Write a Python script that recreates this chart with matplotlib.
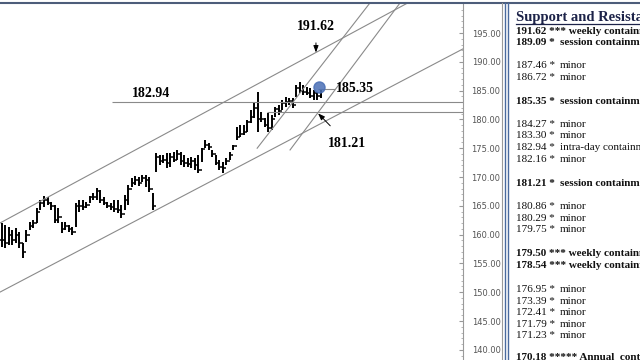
import numpy as np
import matplotlib
matplotlib.use("Agg")
import matplotlib.pyplot as plt
from matplotlib.lines import Line2D

# # bar data (daily OHLC)
highs = [162.0, 161.7, 161.3, 160.8, 161.1, 160.5, 158.5, 160.8, 162.2, 162.5,
         164.6, 166.0, 166.7, 166.5, 165.7, 165.1, 164.6, 162.2, 162.2, 161.7,
         161.3, 165.5, 166.0, 166.0, 165.7, 166.7, 167.2, 168.1, 167.7, 166.5,
         165.7, 165.5, 166.0, 166.0, 165.1, 166.9, 168.6, 169.8, 170.2, 170.0,
         170.3, 170.3, 170.0, 167.2, 174.2, 173.8, 173.8, 174.2, 174.2, 174.3,
         174.7, 174.3, 173.8, 173.3, 173.5, 173.3, 173.8, 175.0, 176.4, 175.9,
         174.7, 173.8, 173.0, 172.6, 173.3, 174.3, 175.6, 178.7, 179.0, 179.0,
         179.9, 181.6, 182.9, 184.8, 181.3, 180.2, 181.1, 180.8, 182.2, 182.5,
         183.4, 183.9, 183.7, 183.7, 186.0, 186.5, 186.0, 185.6, 185.5, 185.1,
         184.8, 185.1]
lows = [157.8, 157.7, 158.2, 158.2, 158.5, 157.7, 155.9, 158.7, 160.8, 161.1,
        162.0, 164.3, 164.8, 165.1, 164.3, 162.0, 162.0, 160.3, 160.8, 160.5,
        159.9, 161.3, 163.9, 164.3, 164.6, 165.5, 166.0, 166.0, 165.5, 165.1,
        164.6, 164.3, 163.9, 163.8, 162.9, 164.3, 165.1, 168.3, 168.6, 168.4,
        169.1, 168.3, 167.4, 164.3, 170.9, 172.1, 172.4, 171.6, 171.7, 172.6,
        173.0, 172.1, 171.7, 171.7, 171.6, 171.2, 170.7, 172.6, 175.0, 174.7,
        173.5, 172.1, 171.2, 170.7, 172.1, 173.0, 174.7, 176.4, 176.9, 177.3,
        177.8, 179.4, 180.2, 177.8, 179.6, 178.7, 177.8, 178.2, 180.4, 180.8,
        181.6, 182.2, 182.5, 182.0, 183.9, 184.6, 184.2, 184.2, 183.7, 183.4,
        183.4, 183.7]
closes = [159.0, 158.5, 160.0, 159.0, 160.0, 158.5, 157.0, 160.0, 161.5, 162.0,
          164.0, 165.5, 166.0, 165.5, 165.0, 162.5, 163.0, 161.0, 161.5, 161.0,
          160.5, 165.0, 165.0, 164.8, 165.2, 166.5, 166.5, 167.5, 166.0, 165.5,
          165.0, 164.8, 164.5, 164.2, 163.5, 166.0, 168.0, 169.0, 169.5, 169.0,
          169.8, 169.5, 168.0, 165.0, 173.5, 172.8, 173.0, 172.5, 173.5, 173.0,
          174.0, 172.8, 172.5, 172.2, 172.8, 172.0, 171.2, 174.8, 175.5, 175.2,
          174.0, 172.5, 171.8, 171.5, 172.8, 173.8, 175.3, 177.0, 177.5, 177.8,
          179.5, 180.5, 182.0, 180.0, 180.0, 179.0, 178.5, 180.0, 181.8, 181.5,
          182.8, 183.0, 183.2, 182.5, 185.5, 185.0, 184.8, 184.5, 184.0, 184.5,
          184.0, 184.3]

# trend lines: (bar index, price) anchor pairs
upper_channel = [(0.0, 162.2), (89.7, 191.62)]
lower_channel = [(0.0, 150.2), (130.0, 191.7)]
steep_1 = [(72.9, 175.0), (105.1, 200.2)]
steep_2 = [(82.3, 174.7), (113.7, 200.2)]

# horizontal levels: (price, start bar)
levels = [(182.94, 31.4), (181.21, 75.7)]

yticks = [140, 145, 150, 155, 160, 165, 170, 175, 180, 185, 190, 195]

# support / resistance table: (price, stars, description, bold)
table = [
    ("191.62", "***", "weekly containment", True),
    ("189.09", "*", "session containment", True),
    ("187.46", "*", "minor", False),
    ("186.72", "*", "minor", False),
    ("185.35", "*", "session containment", True),
    ("184.27", "*", "minor", False),
    ("183.30", "*", "minor", False),
    ("182.94", "*", "intra-day containment", False),
    ("182.16", "*", "minor", False),
    ("181.21", "*", "session containment", True),
    ("180.86", "*", "minor", False),
    ("180.29", "*", "minor", False),
    ("179.75", "*", "minor", False),
    ("179.50", "***", "weekly containment", True),
    ("178.54", "***", "weekly containment", True),
    ("176.95", "*", "minor", False),
    ("173.39", "*", "minor", False),
    ("172.41", "*", "minor", False),
    ("171.79", "*", "minor", False),
    ("171.23", "*", "minor", False),
    ("170.18", "*****", "Annual  containment", True),
]
table_y = [31, 42.5, 66, 77.5, 101, 124.5, 136, 147.5, 159.5, 184, 207, 218.5,
           230, 253, 265, 289, 301, 312.5, 324.5, 336, 358]

W, H = 640, 360
def fx(px):
    return px / W
def fy(py):
    return 1 - py / H

fig = plt.figure(figsize=(6.4, 3.6), dpi=100)
fig.patch.set_facecolor("white")
ax = fig.add_axes([0, 0, 463 / W, 357 / H])

idx = np.arange(len(highs))
opens = np.r_[closes[0], closes[:-1]]
ax.vlines(idx, lows, highs, color="k", lw=1.4)
ax.hlines(opens, idx - 0.45, idx, color="k", lw=1.1)
ax.hlines(closes, idx, idx + 0.45, color="k", lw=1.1)

line_col = "#8a8a8a"
for p1, p2 in [upper_channel, lower_channel]:
    ax.axline(p1, p2, color=line_col, lw=0.8)
for pts in [steep_1, steep_2]:
    a, b = pts
    ax.plot([a[0], b[0]], [a[1], b[1]], color=line_col, lw=0.8)
for price, start in levels:
    ax.hlines(price, start, 140, color=line_col, lw=0.8)

# annotations
tfont = dict(family="Liberation Serif", fontweight="bold", fontsize=10)
ax.text(42.6, 183.3, "182.94", ha="center", va="bottom", **tfont)
ax.annotate("191.62", xy=(89.7, 191.62), xytext=(89.7, 196.1), ha="center", va="center",
            arrowprops=dict(arrowstyle="-|>,head_length=0.4,head_width=0.15", color="k", lw=0.7,
                            shrinkA=5, shrinkB=0), **tfont)
ax.annotate("181.21", xy=(90.3, 181.05), xytext=(98.6, 175.9), ha="center", va="center",
            arrowprops=dict(arrowstyle="-|>,head_length=0.4,head_width=0.15", color="k", lw=0.7,
                            shrinkA=8, shrinkB=0), **tfont)
ax.hlines(185.35, 90.3, 95.0, color=line_col, lw=0.8)
ax.text(95.4, 185.3, "185.35", ha="left", va="center", **tfont)
ax.plot(90.6, 185.7, "o", ms=8, color="#4a6fb5", alpha=0.85)

ax.set_xlim(-0.571, 131.71)
ax.set_ylim(138.23, 200.21)
for s in ["left", "top", "bottom"]:
    ax.spines[s].set_visible(False)
ax.spines["right"].set_color("#9a9a9a")
ax.spines["right"].set_linewidth(0.8)
ax.set_xticks([])
ax.yaxis.tick_right()
ax.set_yticks(yticks)
ax.set_yticklabels(["{0:.2f}".format(v) for v in yticks])
ax.set_yticks(np.arange(139, 200, 1.0), minor=True)
ax.tick_params(axis="y", which="major", direction="in", length=3, color="#999999",
               labelsize=6, labelcolor="#555555", pad=27)
ax.tick_params(axis="y", which="minor", direction="in", length=1.5, color="#aaaaaa")
for lab in ax.get_yticklabels():
    lab.set_horizontalalignment("right")

# frame lines of the screenshot
fig.add_artist(Line2D([0, 1], [fy(2.5), fy(2.5)], color="#4d5d7a", lw=1.5))
fig.add_artist(Line2D([fx(502), fx(502)], [0, fy(3)], color="#9a9a9a", lw=0.8))
fig.add_artist(Line2D([fx(505), fx(505)], [0, fy(3)], color="#4a6a9e", lw=1.0))
fig.add_artist(Line2D([fx(507.5), fx(507.5)], [0, fy(3)], color="#4a6a9e", lw=1.0))

# support and resistance panel
fig.text(fx(516), fy(17), "Support and Resistance", family="Liberation Serif",
         fontweight="bold", fontsize=10.5, color="#1c2248", va="center", ha="left")
fig.add_artist(Line2D([fx(516), 1], [fy(23.5), fy(23.5)], color="#1c2248", lw=0.9))
for (price, stars, desc, bold), y in zip(table, table_y):
    w = "bold" if bold else "normal"
    kw = dict(family="Liberation Serif", fontweight=w, fontsize=8, color="#111111",
              va="center", ha="left")
    if stars == "*":
        fig.text(fx(516), fy(y), price + " *", **kw)
        fig.text(fx(560), fy(y), desc, **kw)
    else:
        fig.text(fx(516), fy(y), price + " " + stars + " " + desc, **kw)

fig.savefig("out.png", dpi=100, facecolor="white")
